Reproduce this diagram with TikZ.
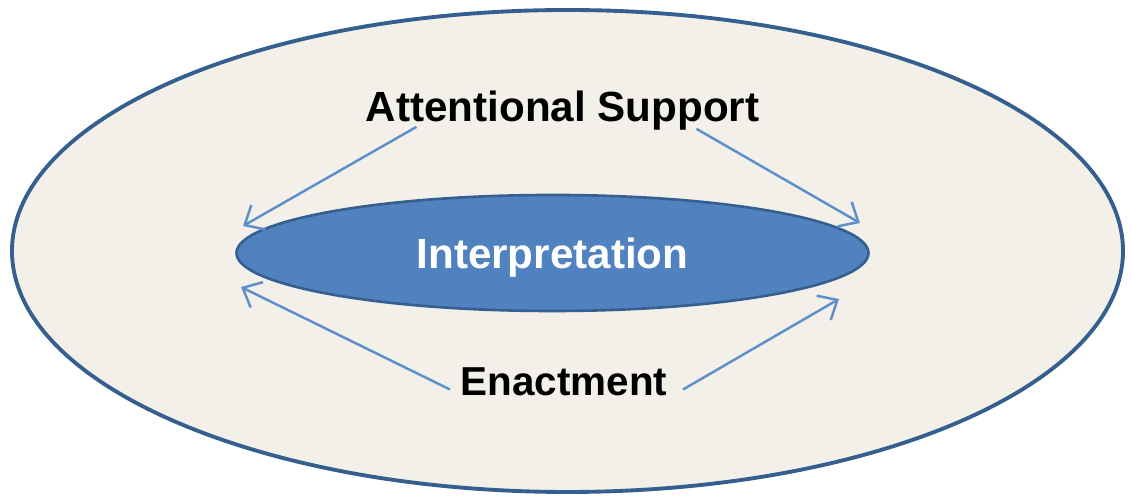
\documentclass[tikz,border=0pt]{standalone}
\usepackage{fontspec}
\setmainfont{Liberation Sans}
\usetikzlibrary{arrows.meta,shapes.geometric}
\definecolor{rimblue}{HTML}{355F8F}
\definecolor{fieldbg}{HTML}{F2F0E8}
\definecolor{coreblue}{HTML}{5182C0}
\definecolor{arrowblue}{HTML}{5E8FCB}
\tikzset{
    labeltext/.style={font=\bfseries\fontsize{24}{28}\selectfont},
    link/.style={arrowblue, line width=1.4pt, -{Straight Barb[length=9pt,width=16pt]}}
}
\begin{document}
\begin{tikzpicture}
    \useasboundingbox (0,0) rectangle (22.62,9.94);
    \draw[rimblue, line width=2.2pt, fill=fieldbg] (11.35,4.92) ellipse [x radius=11.11, y radius=4.82];
    \node[ellipse, draw=rimblue, fill=coreblue, line width=1.5pt, inner sep=0pt, text depth=0pt,
          minimum width=12.64cm, minimum height=2.32cm, text=white, labeltext] (interp) at (11.05,4.88) {Interpretation};
    \node[labeltext] (attn) at (11.25,7.72) {Attentional Support};
    \node[labeltext, font=\bfseries\fontsize{23}{27}\selectfont] (enact) at (11.28,2.30) {Enactment};
    \coordinate (tl) at (4.86,5.42);
    \coordinate (tr) at (17.20,5.48);
    \coordinate (bl) at (4.82,4.20);
    \coordinate (br) at (16.78,3.96);
    \draw[link] ([xshift=1.14cm,yshift=0.2cm]attn.south west) -- (tl);
    \draw[link] ([xshift=-1.38cm,yshift=0.16cm]attn.south east) -- (tr);
    \draw[link] ([xshift=-0.09cm,yshift=-0.15cm]enact.west) -- (bl);
    \draw[link] ([xshift=0.19cm,yshift=-0.15cm]enact.east) -- (br);
\end{tikzpicture}
\end{document}
